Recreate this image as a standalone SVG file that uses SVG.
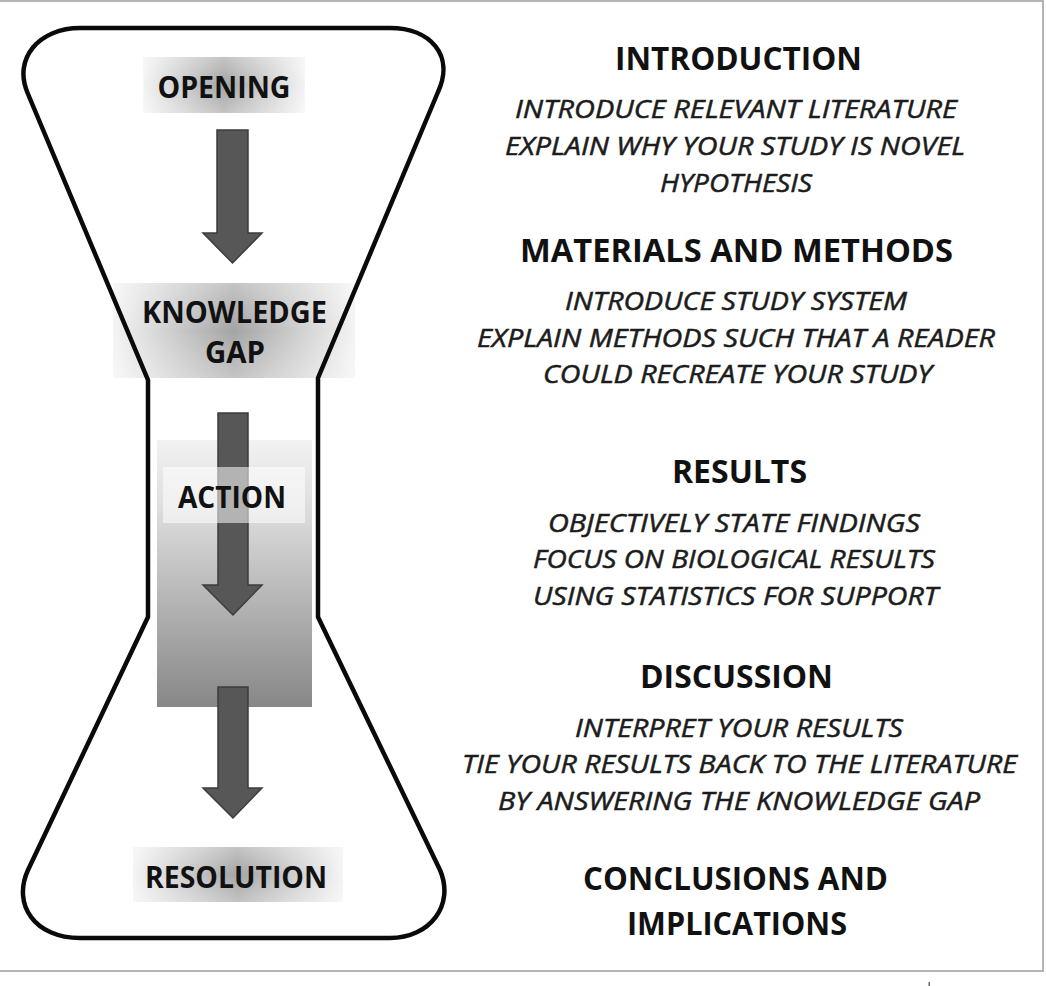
<svg xmlns="http://www.w3.org/2000/svg" width="1046" height="986" viewBox="0 0 1046 986">
<defs>
<linearGradient id="band" x1="0" y1="0" x2="1" y2="0">
<stop offset="0" stop-color="#f4f4f4"/>
<stop offset="0.5" stop-color="#a4a4a4"/>
<stop offset="1" stop-color="#f4f4f4"/>
</linearGradient>
<linearGradient id="bandV" x1="0" y1="0" x2="0" y2="1">
<stop offset="0" stop-color="#ffffff" stop-opacity="0.35"/>
<stop offset="0.5" stop-color="#ffffff" stop-opacity="0"/>
<stop offset="1" stop-color="#ffffff" stop-opacity="0.35"/>
</linearGradient>
<linearGradient id="actionGrad" x1="0" y1="0" x2="0" y2="1">
<stop offset="0" stop-color="#f2f2f2"/>
<stop offset="0.25" stop-color="#dedede"/>
<stop offset="1" stop-color="#878787"/>
</linearGradient>
</defs>
<style>
.lbl{font-family:"Open Sans","Noto Sans","DejaVu Sans",sans-serif;font-weight:bold;font-size:30px;fill:#111;text-anchor:middle}
.hd{font-family:"Open Sans","Noto Sans","DejaVu Sans",sans-serif;font-weight:bold;font-size:33px;fill:#111;text-anchor:middle}
.it{font-family:"Open Sans","Noto Sans","DejaVu Sans",sans-serif;font-style:italic;font-size:25px;fill:#1c1c1c;stroke:#1c1c1c;stroke-width:0.5;text-anchor:middle}
.arrow{fill:#575757;stroke:#3c3c3c;stroke-width:1.5;stroke-linejoin:miter}
.frame{stroke:#b4b4b4;stroke-width:2;fill:none}
</style>
<rect width="1046" height="986" fill="#ffffff"/>
<g id="frame">
<path class="frame" d="M0,1 H1043 V971 H0"/>
<rect x="928.5" y="982" width="1.5" height="4" fill="#666"/>
</g>
<g id="node-opening">
<rect x="143" y="57" width="162" height="56" fill="url(#band)"/>
<rect x="143" y="57" width="162" height="56" fill="url(#bandV)"/>
<text class="lbl" x="224" y="98" textLength="133" lengthAdjust="spacingAndGlyphs">OPENING</text>
</g>
<g id="node-knowledge-gap">
<rect x="113" y="283" width="242" height="95" fill="url(#band)"/>
<rect x="113" y="283" width="242" height="95" fill="url(#bandV)"/>
<text class="lbl" x="234.5" y="323" textLength="185" lengthAdjust="spacingAndGlyphs">KNOWLEDGE</text>
<text class="lbl" x="235" y="363" textLength="60" lengthAdjust="spacingAndGlyphs">GAP</text>
</g>
<g id="node-action-box">
<rect x="157" y="440" width="155" height="267" fill="url(#actionGrad)"/>
</g>
<g id="node-resolution">
<rect x="133" y="847" width="210" height="55" fill="url(#band)"/>
<rect x="133" y="847" width="210" height="55" fill="url(#bandV)"/>
<text class="lbl" x="236" y="888" textLength="182" lengthAdjust="spacingAndGlyphs">RESOLUTION</text>
</g>
<g id="hourglass">
<path d="M80,28 H390 C430,28 455,55 438,92 L318,378 V617 L440,870 C455,905 430,938 390,938 H80 C35,938 12,905 28,870 L148,617 V380 L28,94 C12,58 40,28 80,28 Z" fill="none" stroke="#0a0a0a" stroke-width="4.5" stroke-linejoin="round"/>
</g>
<g id="connectors">
<path class="arrow" d="M217,130 H248 V233 H262 L232.5,263 L203,233 H217 Z"/>
<path class="arrow" d="M218,413 H248 V585 H262 L233,615 L203,585 H218 Z"/>
<path class="arrow" d="M218,687 H248 V788 H262 L233,818 L203,788 H218 Z"/>
</g>
<g id="node-action">
<rect x="163" y="467" width="142" height="56" fill="#ffffff" fill-opacity="0.55"/>
<text class="lbl" x="232" y="508" textLength="108" lengthAdjust="spacingAndGlyphs">ACTION</text>
</g>
<g id="section-introduction">
<text class="hd" x="738.5" y="70" textLength="247" lengthAdjust="spacingAndGlyphs">INTRODUCTION</text>
<text class="it" x="736" y="118" textLength="442" lengthAdjust="spacingAndGlyphs">INTRODUCE RELEVANT LITERATURE</text>
<text class="it" x="735" y="155" textLength="460" lengthAdjust="spacingAndGlyphs">EXPLAIN WHY YOUR STUDY IS NOVEL</text>
<text class="it" x="736" y="192" textLength="152" lengthAdjust="spacingAndGlyphs">HYPOTHESIS</text>
</g>
<g id="section-methods">
<text class="hd" x="736.5" y="262" textLength="433" lengthAdjust="spacingAndGlyphs">MATERIALS AND METHODS</text>
<text class="it" x="736" y="310" textLength="342" lengthAdjust="spacingAndGlyphs">INTRODUCE STUDY SYSTEM</text>
<text class="it" x="736" y="347" textLength="518" lengthAdjust="spacingAndGlyphs">EXPLAIN METHODS SUCH THAT A READER</text>
<text class="it" x="737.5" y="383" textLength="389" lengthAdjust="spacingAndGlyphs">COULD RECREATE YOUR STUDY</text>
</g>
<g id="section-results">
<text class="hd" x="739.5" y="483" textLength="135" lengthAdjust="spacingAndGlyphs">RESULTS</text>
<text class="it" x="734" y="532" textLength="372" lengthAdjust="spacingAndGlyphs">OBJECTIVELY STATE FINDINGS</text>
<text class="it" x="734" y="568" textLength="402" lengthAdjust="spacingAndGlyphs">FOCUS ON BIOLOGICAL RESULTS</text>
<text class="it" x="735.5" y="605" textLength="405" lengthAdjust="spacingAndGlyphs">USING STATISTICS FOR SUPPORT</text>
</g>
<g id="section-discussion">
<text class="hd" x="736.5" y="688" textLength="193" lengthAdjust="spacingAndGlyphs">DISCUSSION</text>
<text class="it" x="739" y="737" textLength="328" lengthAdjust="spacingAndGlyphs">INTERPRET YOUR RESULTS</text>
<text class="it" x="739.5" y="773" textLength="555" lengthAdjust="spacingAndGlyphs">TIE YOUR RESULTS BACK TO THE LITERATURE</text>
<text class="it" x="739" y="810" textLength="482" lengthAdjust="spacingAndGlyphs">BY ANSWERING THE KNOWLEDGE GAP</text>
</g>
<g id="section-conclusions">
<text class="hd" x="735.5" y="890" textLength="305" lengthAdjust="spacingAndGlyphs">CONCLUSIONS AND</text>
<text class="hd" x="737" y="935" textLength="220" lengthAdjust="spacingAndGlyphs">IMPLICATIONS</text>
</g>
</svg>
